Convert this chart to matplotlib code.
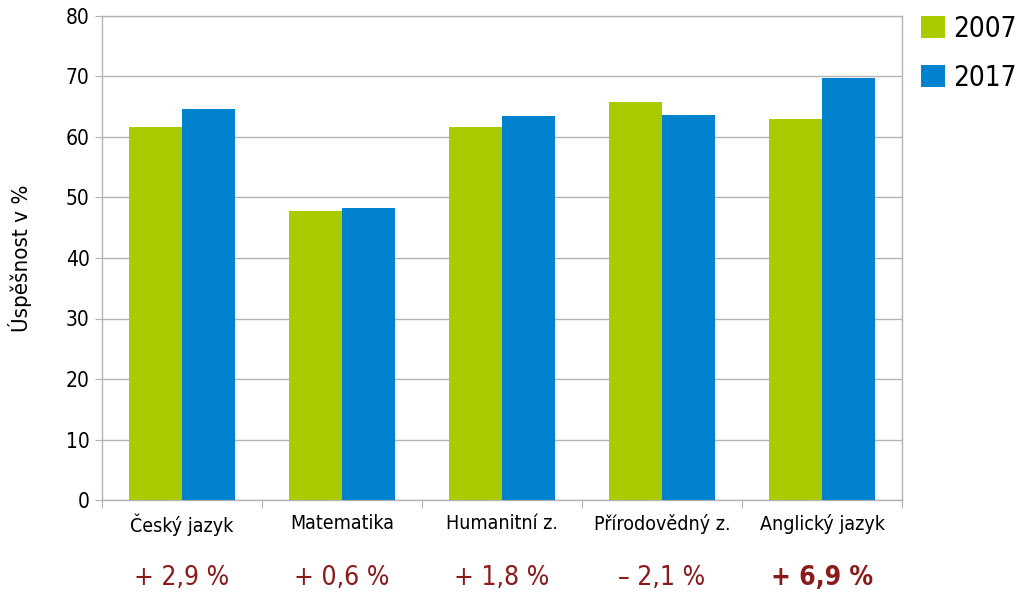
import matplotlib
matplotlib.use('Agg')
from matplotlib import pyplot as plt
import matplotlib.transforms as mtransforms
import numpy as np

# Chart data.
categories = ['Český jazyk', 'Matematika', 'Humanitní z.', 'Přírodovědný z.', 'Anglický jazyk']
years = ['2007', '2017']
values_2007 = [61.7, 47.7, 61.7, 65.8, 62.9]
values_2017 = [64.6, 48.3, 63.5, 63.7, 69.8]

colors = ['#a9cc00', '#0082cf']
diff_color = '#8b1a1a'
grid_color = '#b3b3b3'

# Narrow look: DejaVu Sans Condensed.
plt.rcParams['font.family'] = ['DejaVu Sans']
plt.rcParams['font.stretch'] = 'condensed'

fig = plt.figure(figsize = (10.24, 6.01), dpi = 100)
ax = fig.add_axes([102 / 1024, 101 / 601, 800 / 1024, 484 / 601])

x = np.arange(len(categories)) + 0.5
width = 0.33
ax.bar(x - width / 2, values_2007, width, color = colors[0], label = years[0], zorder = 3)
ax.bar(x + width / 2, values_2017, width, color = colors[1], label = years[1], zorder = 3)

ax.set_xlim(0, len(categories))
ax.set_ylim(0, 80)
ax.set_yticks(np.arange(0, 81, 10))
ax.yaxis.grid(True, color = grid_color, linewidth = 1, zorder = 0)
ax.tick_params(axis = 'y', labelsize = 15, length = 5, color = grid_color, pad = 4)

# Category boundary ticks and centred labels.
ax.set_xticks(np.arange(len(categories) + 1))
ax.set_xticklabels([])
ax.set_xticks(x, minor = True)
ax.set_xticklabels(categories, minor = True)
ax.tick_params(axis = 'x', which = 'major', length = 6, color = grid_color)
ax.tick_params(axis = 'x', which = 'minor', length = 0, labelsize = 14, pad = 10)

for spine in ax.spines.values():
    spine.set_color(grid_color)
    spine.set_linewidth(1)

ax.set_ylabel('Úspěšnost v %', fontsize = 16, labelpad = 24)

# Differences between the two years below the category names.
trans = mtransforms.blended_transform_factory(ax.transData, ax.transAxes)
for i, (a, b) in enumerate(zip(values_2007, values_2017)):
    diff = round(b - a, 1)
    sign = '+' if diff >= 0 else '–'
    label = f'{sign} {abs(diff):.1f} %'.replace('.', ',')
    weight = 'bold' if i == len(categories) - 1 else 'normal'
    ax.text(x[i], -0.161, label, transform = trans, ha = 'center', va = 'center',
        fontsize = 19, color = diff_color, fontweight = weight)

fig.legend(loc = 'upper left', bbox_to_anchor = (921 / 1024, 1 - 15 / 601),
    frameon = False, fontsize = 20, handlelength = 0.85, handleheight = 0.85,
    handletextpad = 0.3, labelspacing = 0.75, borderaxespad = 0, borderpad = 0)

plt.savefig('out.png', dpi = 100)
